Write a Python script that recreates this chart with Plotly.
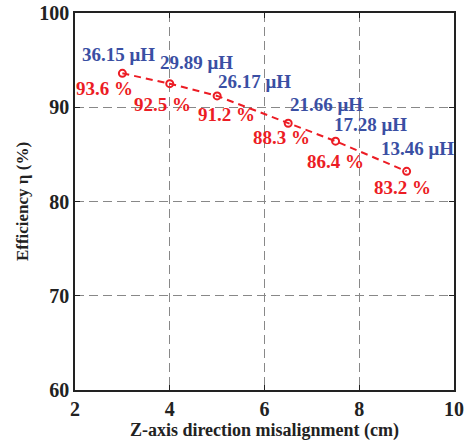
import plotly.graph_objects as go

misalign_cm = [3, 4, 5, 6.5, 7.5, 9]
efficiency = [93.6, 92.5, 91.2, 88.3, 86.4, 83.2]
inductance_labels = ["36.15 μH", "29.89 μH", "26.17 μH", "21.66 μH", "17.28 μH", "13.46 μH"]
efficiency_labels = ["93.6 %", "92.5 %", "91.2 %", "88.3 %", "86.4 %", "83.2 %"]

x_ticks = [2, 4, 6, 8, 10]
y_ticks = [60, 70, 80, 90, 100]

# label pixel offsets (style)
blue_dx = [-4, 27, 37, 38, 35, 11]
blue_dy = [19, 21, 14, 19, 17, 23]
red_dx = [-18, -7, 9, -7, 0, -4]
red_dy = [-15, -21, -19, -14, -20, -16]

RED = "#ec1c24"
BLUE = "#3a4fa3"
FONT = "Liberation Serif"
DARK = "#222"

fig = go.Figure()
fig.add_trace(go.Scatter(
    x=misalign_cm, y=efficiency, mode="lines+markers",
    line=dict(color=RED, width=2, dash="7px,5px"),
    marker=dict(symbol="circle-open", size=7, color=RED, line=dict(width=2, color=RED)),
    showlegend=False,
))

annotations = []
for i, (xv, yv) in enumerate(zip(misalign_cm, efficiency)):
    annotations.append(dict(x=xv, y=yv, text=inductance_labels[i], showarrow=False,
                            xshift=blue_dx[i], yshift=blue_dy[i],
                            font=dict(family=FONT, size=19, color=BLUE, weight="bold")))
    annotations.append(dict(x=xv, y=yv, text=efficiency_labels[i], showarrow=False,
                            xshift=red_dx[i], yshift=red_dy[i],
                            font=dict(family=FONT, size=19, color=RED, weight="bold")))

axis_common = dict(
    showline=True, linecolor=DARK, linewidth=1.5, mirror="ticks",
    ticks="inside", ticklen=5, tickcolor=DARK,
    showgrid=True, gridcolor="#888", gridwidth=1, griddash="9px,5px",
    zeroline=False, automargin=False,
    tickfont=dict(family=FONT, size=20, color=DARK, weight="bold"),
)

fig.update_layout(
    width=470, height=446,
    margin=dict(l=75, r=16, t=13, b=56),
    paper_bgcolor="white", plot_bgcolor="white",
    xaxis=dict(range=[2, 10], tickvals=x_ticks,
               title=dict(text="Z-axis direction misalignment (cm)", standoff=2,
                          font=dict(family=FONT, size=18, color=DARK, weight="bold")),
               **axis_common),
    yaxis=dict(range=[60, 100], tickvals=y_ticks,
               title=dict(text="Efficiency η (%)", standoff=6,
                          font=dict(family=FONT, size=17, color=DARK, weight="bold")),
               **axis_common),
    annotations=annotations,
)

fig.write_html("out.html", config={"displayModeBar": False},
               post_script="document.body.style.margin='0';document.body.style.overflow='hidden';")
